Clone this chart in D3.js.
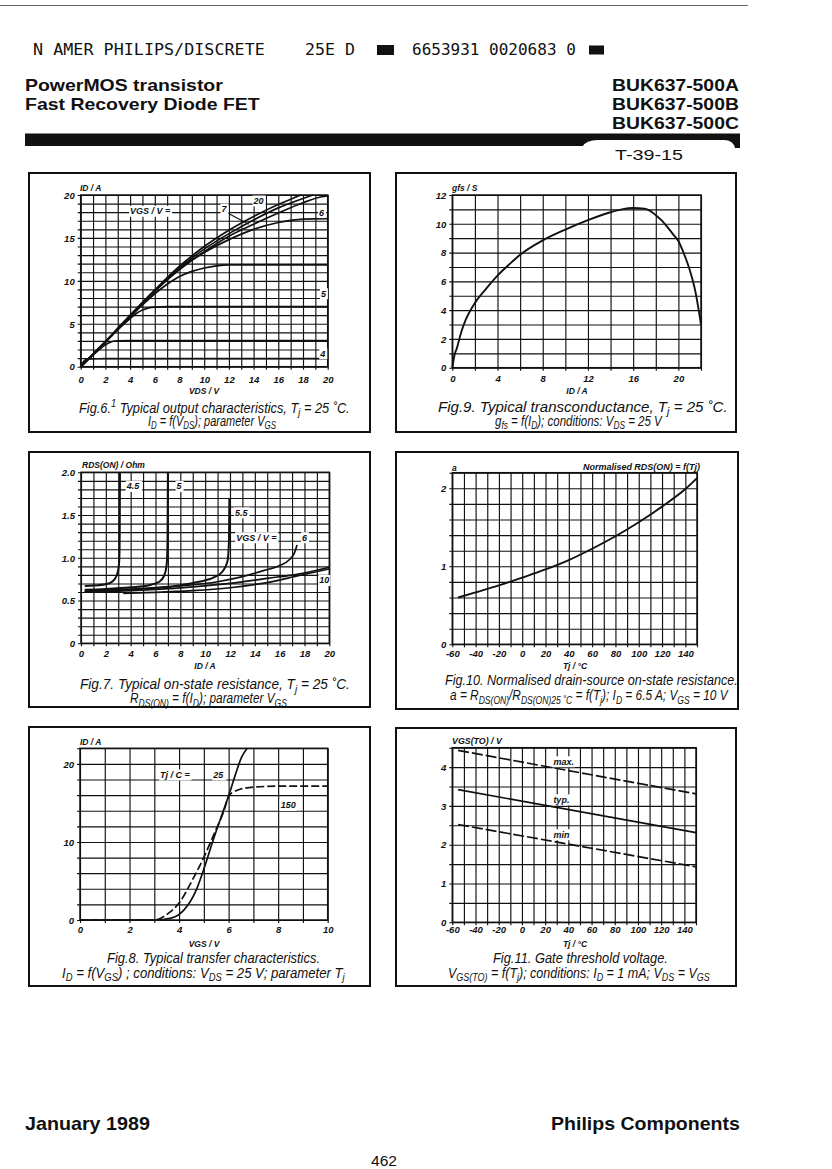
<!DOCTYPE html>
<html><head><meta charset="utf-8">
<script src="https://cdnjs.cloudflare.com/ajax/libs/d3/7.8.5/d3.min.js"></script>
<style>body{margin:0;background:#fff}svg{display:block}</style>
</head><body>
<svg id="c" width="832" height="1169"></svg>
<script>
// ---------------- DATA ----------------
// Fig.6 output characteristics: [VDS, ID]
const fig6_vgs4  = [[0,0],[0.2,0.55],[0.4,0.82],[0.7,0.92],[2,0.93],[20,0.95]];
const fig6_vgs45 = [[0,0],[0.5,0.7],[1,1.35],[1.5,2.0],[2,2.55],[2.5,2.9],[3,3.02],[4,3.05],[20,3.05]];
const fig6_vgs5  = [[0,0],[1,1.4],[2,2.85],[3,4.3],[4,5.6],[4.5,6.2],[5,6.6],[5.5,6.85],[6,6.95],[7,7.0],[20,7.0]];
const fig6_vgs55 = [[0,0],[2,2.9],[4,5.8],[5,7.2],[6,8.5],[7,9.6],[8,10.5],[9,11.1],[10,11.5],[11,11.75],[12,11.85],[14,11.85],[20,11.85]];
const fig6_vgs6  = [[0,0],[2,2.9],[4,5.9],[6,8.8],[8,11.4],[10,13.3],[12,14.8],[14,16.0],[16,16.8],[17,17.05],[18,17.2],[20,17.25]];
const fig6_vgs7  = [[0,0],[2,2.9],[4,5.9],[6,8.8],[8,11.3],[10,13.4],[12,15.2],[14,16.6],[16,17.9],[18,19.1],[19.5,19.8],[20,19.9]];
const fig6_vgs10 = [[0,0],[2,2.9],[4,5.9],[6,8.85],[8,11.5],[10,13.7],[12,15.5],[14,17.1],[16,18.5],[18,19.6],[18.8,20]];
const fig6_vgs20 = [[0,0],[2,2.95],[4,6.0],[6,8.95],[8,11.7],[10,14.0],[12,15.9],[14,17.5],[16,18.9],[17,19.5],[17.8,20]];
const fig6_xTicks = [0,2,4,6,8,10,12,14,16,18,20];
const fig6_yTicks = [0,5,10,15,20];

// Fig.9 transconductance: [ID, gfs]
const fig9_gfs = [[0,0],[0.2,0.9],[0.4,1.35],[0.8,2.5],[1.2,3.35],[2,4.5],[3,5.5],[4,6.4],[5,7.15],[6,7.85],[8,8.85],[10,9.6],[12,10.25],[14,10.8],[15,11.0],[16,11.1],[17,11.05],[17.5,10.9],[18,10.6],[18.5,10.25],[19,9.8],[19.5,9.3],[20,8.8],[20.5,7.9],[21,6.8],[21.5,5.3],[22,3.0]];
const fig9_xTicks = [0,4,8,12,16,20];
const fig9_yTicks = [0,2,4,6,8,10,12];

// Fig.7 on-state resistance: [ID, RDS(ON)]
const fig7_vgs45 = [[0.3,0.67],[1,0.675],[2,0.69],[2.5,0.72],[2.8,0.77],[3.0,0.86],[3.08,0.97],[3.12,1.3],[3.14,2.0]];
const fig7_vgs5  = [[0.3,0.625],[2,0.635],[4,0.655],[5.5,0.68],[6.3,0.72],[6.7,0.79],[6.9,0.92],[6.97,1.2],[7.0,2.0]];
const fig7_vgs55 = [[0.3,0.61],[3,0.625],[6,0.65],[8,0.68],[9.5,0.72],[10.7,0.77],[11.4,0.84],[11.8,0.96],[11.92,1.2],[11.95,1.7]];
const fig7_vgs6  = [[0.3,0.61],[4,0.63],[8,0.67],[11,0.72],[13,0.78],[14.7,0.85],[16,0.91],[16.8,0.98],[17.2,1.06],[17.4,1.15]];
const fig7_vgs7  = [[0.3,0.6],[3,0.61],[6,0.63],[9,0.66],[12,0.7],[15,0.76],[17.5,0.81],[20,0.89]];
const fig7_vgs10 = [[3.4,0.585],[6,0.595],[9,0.615],[12,0.65],[15,0.71],[17.5,0.79],[20,0.87]];
const fig7_xTicks = [0,2,4,6,8,10,12,14,16,18,20];
const fig7_yTicks = [0,0.5,1.0,1.5,2.0];

// Fig.10 normalised RDS(ON): [Tj, a]
const fig10_a = [[-55,0.6],[-40,0.665],[-20,0.755],[0,0.855],[20,0.96],[40,1.08],[60,1.225],[80,1.385],[100,1.565],[120,1.765],[140,1.99],[150,2.13]];
const fig10_xTicks = [-60,-40,-20,0,20,40,60,80,100,120,140];
const fig10_yTicks = [0,1,2];

// Fig.8 transfer characteristics: [VGS, ID]
const fig8_t25  = [[0,0],[3.0,0],[3.3,0.05],[3.63,0.2],[3.97,0.64],[4.2,1.3],[4.44,2.3],[4.7,3.9],[4.9,5.6],[5.1,7.5],[5.3,9.5],[5.5,11.4],[5.72,13.4],[6.03,16.2],[6.26,18.5],[6.53,20.9],[6.75,22]];
const fig8_t150 = [[0,0],[3.0,0],[3.3,0.3],[3.63,1.0],[4.04,2.34],[4.5,4.9],[4.98,7.9],[5.45,11.3],[5.79,13.8],[6.03,16.0],[6.2,16.4],[6.46,16.75],[7.13,17.05],[8.07,17.15],[10,17.15]];
const fig8_xTicks = [0,2,4,6,8,10];
const fig8_yTicks = [0,10,20];

// Fig.11 gate threshold voltage: [Tj, VGS(TO)]
const fig11_max = [[-55,4.43],[150,3.31]];
const fig11_typ = [[-55,3.42],[150,2.31]];
const fig11_min = [[-55,2.52],[150,1.43]];
const fig11_xTicks = [-60,-40,-20,0,20,40,60,80,100,120,140];
const fig11_yTicks = [0,1,2,3,4];

// ---------------- DRAW ----------------
const svg = d3.select('#c');
const SANS = "'Liberation Sans', Arial, Helvetica, sans-serif";
const MONO = "'DejaVu Sans Mono', 'Liberation Mono', monospace";
const INK = '#111';
const plainFmt = d => String(d);

function rich(parent, segs, size, opts = {}) {
  const t = parent.append('text').attr('x', 0).attr('y', 0)
    .attr('font-family', opts.family || SANS).attr('font-size', size)
    .attr('font-style', opts.italic === false ? 'normal' : 'italic')
    .attr('font-weight', opts.weight || 'normal').attr('fill', INK);
  let off = 0;
  segs.forEach(s => {
    const [txt, kind] = Array.isArray(s) ? s : [s, null];
    const target = kind === 'sub' ? size * 0.28 : kind === 'sup' ? -size * 0.38 : 0;
    const ts = t.append('tspan').attr('dy', target - off).text(txt);
    if (kind) ts.attr('font-size', size * 0.72);
    off = target;
  });
  return t;
}
function place(t, x, y, w, anchor) {
  const bw = t.node().getComputedTextLength();
  const s = w ? w / bw : 1;
  const rw = bw * s;
  const x0 = anchor === 'end' ? x - rw : anchor === 'middle' ? x - rw / 2 : x;
  t.attr('transform', `translate(${x0},${y}) scale(${s},1)`);
}

function panel(p) {
  const g = svg.append('g');
  const x = d3.scaleLinear().domain(p.xDom).range([p.x0, p.x1]);
  const y = d3.scaleLinear().domain(p.yDom).range([p.y0, p.y1]);
  const h = p.y0 - p.y1, w = p.x1 - p.x0;
  g.append('rect').attr('x', p.box[0]).attr('y', p.box[1])
    .attr('width', p.box[2] - p.box[0]).attr('height', p.box[3] - p.box[1])
    .attr('fill', 'none').attr('stroke', INK).attr('stroke-width', 2);

  const gx = g.append('g').attr('transform', `translate(0,${p.y0})`)
    .call(d3.axisBottom(x).tickValues(d3.range(p.xDom[0], p.xDom[1] + 1e-9, p.xStep)).tickSize(-h).tickSizeOuter(0).tickFormat(''));
  gx.select('.domain').remove();
  gx.selectAll('line').attr('stroke', INK).attr('stroke-width', 1.15).attr('y1', 3);

  const gy = g.append('g').attr('transform', `translate(${p.x0},0)`)
    .call(d3.axisLeft(y).tickValues(d3.range(0, Math.round((p.yDom[1] - p.yDom[0]) / p.yStep) + 1).map(i => p.yDom[0] + i * p.yStep)).tickSize(-w).tickSizeOuter(0).tickFormat(''));
  gy.select('.domain').remove();
  gy.selectAll('line').attr('stroke', INK).attr('stroke-width', 1.15).attr('x1', -3);

  g.append('rect').attr('x', p.x0).attr('y', p.y1).attr('width', w).attr('height', h)
    .attr('fill', 'none').attr('stroke', INK).attr('stroke-width', 1.5);

  // tick labels
  const lx = g.append('g').attr('transform', `translate(0,${p.y0})`)
    .call(d3.axisBottom(x).tickValues(p.xTicks).tickSize(0).tickFormat(p.xFmt || plainFmt));
  lx.select('.domain').remove();
  lx.selectAll('text').attr('y', p.xLabDy).attr('dy', null)
    .attr('font-family', SANS).attr('font-size', 9.5).attr('font-weight', 'bold').attr('font-style', 'italic').attr('fill', INK);
  const ly = g.append('g').attr('transform', `translate(${p.x0},0)`)
    .call(d3.axisLeft(y).tickValues(p.yTicks).tickSize(0).tickFormat(p.yFmt || plainFmt));
  ly.select('.domain').remove();
  ly.selectAll('text').attr('x', -6).attr('dy', '0.34em')
    .attr('font-family', SANS).attr('font-size', 9.5).attr('font-weight', 'bold').attr('font-style', 'italic').attr('fill', INK);

  // curves
  const line = d3.line().x(d => x(d[0])).y(d => y(d[1])).curve(d3.curveMonotoneX);
  p.series.forEach(s => {
    g.append('path').datum(s.data).attr('d', line).attr('fill', 'none')
      .attr('stroke', INK).attr('stroke-width', s.sw || 1.7)
      .attr('stroke-dasharray', s.dash || null).attr('stroke-linejoin', 'round');
  });
  (p.leaders || []).forEach(l => {
    g.append('line').attr('x1', x(l[0])).attr('y1', y(l[1])).attr('x2', x(l[2])).attr('y2', y(l[3]))
      .attr('stroke', INK).attr('stroke-width', 1.2);
  });
  (p.labels || []).forEach(l => {
    const t = rich(g, [l.t], 9, { weight: 'bold' });
    place(t, x(l.x), y(l.y), null, 'start');
    const bb = t.node().getBBox();
    g.insert('rect', () => t.node()).attr('x', x(l.x) - 1).attr('y', y(l.y) + bb.y - 0.5)
      .attr('width', bb.width + 2).attr('height', bb.height + 1).attr('fill', '#fff');
  });
  // axis titles
  p.titles.forEach(tt => {
    const t = rich(g, tt.segs, 8.5, { weight: 'bold' });
    place(t, tt.x, tt.y, tt.w, tt.anchor);
  });
  // captions
  p.caps.forEach(c => {
    const t = rich(g, c.segs, 14);
    place(t, c.x, c.y, c.w, 'start');
  });
}

// ---- header ----
svg.append('line').attr('x1', 0).attr('x2', 748).attr('y1', 5.5).attr('y2', 5.5).attr('stroke', '#666').attr('stroke-width', 1);
const hdr = (txt, x, y, w, fam, size, weight, anchor) => {
  const t = rich(svg, [txt], size, { family: fam, italic: false, weight: weight || 'normal' });
  place(t, x, y, w, anchor || 'start');
};
hdr('N AMER PHILIPS/DISCRETE', 33, 55, 232, MONO, 15);
hdr('25E D', 305, 55, 50, MONO, 15);
svg.append('rect').attr('x', 377).attr('y', 45).attr('width', 17).attr('height', 10).attr('fill', INK);
hdr('6653931 0020683 0', 412, 55, 164, MONO, 15);
svg.append('rect').attr('x', 589).attr('y', 45.5).attr('width', 15).attr('height', 9).attr('fill', INK);

hdr('PowerMOS transistor', 25, 91, 198, SANS, 16.5, 'bold');
hdr('Fast Recovery Diode FET', 25, 110, 235, SANS, 16.5, 'bold');
hdr('BUK637-500A', 739, 91, 127, SANS, 16.5, 'bold', 'end');
hdr('BUK637-500B', 739, 110, 127, SANS, 16.5, 'bold', 'end');
hdr('BUK637-500C', 739, 129, 127, SANS, 16.5, 'bold', 'end');

svg.append('path').attr('d', 'M25,133.5 L740,133.5 L740,148 L733,148 L733,146 L25,146 Z').attr('fill', INK);
svg.append('path').attr('d', 'M582,147 Q586,140 598,140 L724,140 Q733,140 735,148 Z').attr('fill', '#fff');
hdr('T-39-15', 615, 160, 68, SANS, 15);

// ---- footer ----
hdr('January 1989', 25, 1130, 125, SANS, 17.5, 'bold');
hdr('Philips Components', 740, 1130, 189, SANS, 17.5, 'bold', 'end');
hdr('462', 384, 1166, 26, SANS, 14, 'normal', 'middle');

// ---- panels ----
panel({
  box: [29, 173, 370, 432], xDom: [0, 20], yDom: [0, 20], x0: 80.7, x1: 327.7, y0: 366.7, y1: 195,
  xStep: 1, yStep: 1, xTicks: fig6_xTicks, yTicks: fig6_yTicks, xLabDy: 16,
  series: [{ data: fig6_vgs4 }, { data: fig6_vgs45 }, { data: fig6_vgs5 }, { data: fig6_vgs55 },
           { data: fig6_vgs6 }, { data: fig6_vgs7 }, { data: fig6_vgs10 }, { data: fig6_vgs20 }],
  labels: [{ t: 'VGS / V =', x: 4.0, y: 17.75 }, { t: '20', x: 14.0, y: 18.95 }, { t: '7', x: 11.4, y: 18.0 },
           { t: '6', x: 19.3, y: 17.6 }, { t: '5', x: 19.45, y: 8.15 }, { t: '4', x: 19.4, y: 1.15 }],
  leaders: [[11.9, 17.9, 13.6, 16.6]],
  titles: [{ segs: ['ID / A'], x: 80, y: 191 }, { segs: ['VDS / V'], x: 204, y: 394, anchor: 'middle' }],
  caps: [
    { segs: ['Fig.6.', ['1', 'sup'], '   Typical output characteristics, T', ['j', 'sub'], ' = 25 ˚C.'], x: 79, y: 412.5, w: 271 },
    { segs: ['I', ['D', 'sub'], ' = f(V', ['DS', 'sub'], '); parameter V', ['GS', 'sub']], x: 148, y: 425.5, w: 128 }
  ]
});

panel({
  box: [396, 173, 736, 432], xDom: [0, 22], yDom: [0, 12], x0: 452.3, x1: 701, y0: 367.7, y1: 195,
  xStep: 2, yStep: 1, xTicks: fig9_xTicks, yTicks: fig9_yTicks, xLabDy: 14,
  series: [{ data: fig9_gfs, sw: 1.9 }],
  titles: [{ segs: ['gfs / S'], x: 452, y: 191 }, { segs: ['ID / A'], x: 577, y: 393.5, anchor: 'middle' }],
  caps: [
    { segs: ['Fig.9.    Typical transconductance, T', ['j', 'sub'], ' = 25 ˚C.'], x: 438, y: 411.5, w: 290 },
    { segs: ['g', ['fs', 'sub'], ' = f(I', ['D', 'sub'], '); conditions: V', ['DS', 'sub'], ' = 25 V'], x: 495, y: 425.5, w: 167 }
  ]
});

panel({
  box: [29, 452, 370, 707], xDom: [0, 20], yDom: [0, 2], x0: 81, x1: 329.3, y0: 643.3, y1: 472.3,
  xStep: 1, yStep: 0.1, xTicks: fig7_xTicks, yTicks: fig7_yTicks, xLabDy: 13.5,
  yFmt: d => d === 0 ? '0' : d3.format('.1f')(d),
  series: [{ data: fig7_vgs45, sw: 2 }, { data: fig7_vgs5, sw: 2 }, { data: fig7_vgs55, sw: 2 },
           { data: fig7_vgs6 }, { data: fig7_vgs7 }, { data: fig7_vgs10 }],
  labels: [{ t: '4.5', x: 3.68, y: 1.80 }, { t: '5', x: 7.7, y: 1.80 }, { t: '5.5', x: 12.4, y: 1.49 },
           { t: 'VGS / V =', x: 12.5, y: 1.2 }, { t: '6', x: 17.8, y: 1.2 }, { t: '10', x: 19.2, y: 0.70 }],
  titles: [{ segs: ['RDS(ON) / Ohm'], x: 82, y: 468, w: 63 }, { segs: ['ID / A'], x: 205, y: 668.5, anchor: 'middle' }],
  caps: [
    { segs: ['Fig.7.    Typical on-state resistance, T', ['j', 'sub'], ' = 25 ˚C.'], x: 80, y: 689, w: 270 },
    { segs: ['R', ['DS(ON)', 'sub'], ' = f(I', ['D', 'sub'], '); parameter V', ['GS', 'sub']], x: 130, y: 703, w: 157 }
  ]
});

panel({
  box: [396, 452, 738, 709], xDom: [-60, 150], yDom: [0, 2.2], x0: 452.3, x1: 697, y0: 644.3, y1: 472.7,
  xStep: 10, yStep: 0.2, xTicks: fig10_xTicks, yTicks: fig10_yTicks, xLabDy: 12.5,
  series: [{ data: fig10_a, sw: 1.9 }],
  titles: [{ segs: ['a'], x: 452, y: 471 }, { segs: ['Normalised RDS(ON) = f(Tj)'], x: 700, y: 470, w: 117, anchor: 'end' },
           { segs: ['Tj / °C'], x: 575, y: 668.5, anchor: 'middle' }],
  caps: [
    { segs: ['Fig.10.   Normalised drain-source on-state resistance.'], x: 445, y: 685, w: 293 },
    { segs: ['a = R', ['DS(ON)', 'sub'], '/R', ['DS(ON)25 ˚C', 'sub'], ' = f(T', ['j', 'sub'], '); I', ['D', 'sub'], ' = 6.5 A; V', ['GS', 'sub'], ' = 10 V'], x: 450, y: 700, w: 278 }
  ]
});

panel({
  box: [29, 727, 370, 986], xDom: [0, 10], yDom: [0, 22], x0: 80, x1: 327.7, y0: 920, y1: 748.3,
  xStep: 1, yStep: 2, xTicks: fig8_xTicks, yTicks: fig8_yTicks, xLabDy: 12.5,
  series: [{ data: fig8_t25 }, { data: fig8_t150, dash: '8,3' }],
  labels: [{ t: 'Tj / C =', x: 3.23, y: 18.2 }, { t: '25', x: 5.38, y: 18.2 }, { t: '150', x: 8.1, y: 14.3 }],
  titles: [{ segs: ['ID / A'], x: 80, y: 745 }, { segs: ['VGS / V'], x: 204, y: 946.5, anchor: 'middle' }],
  caps: [
    { segs: ['Fig.8.    Typical transfer characteristics.'], x: 107, y: 963, w: 213 },
    { segs: ['I', ['D', 'sub'], ' = f(V', ['GS', 'sub'], ') ; conditions: V', ['DS', 'sub'], ' = 25 V; parameter T', ['j', 'sub']], x: 62, y: 977.5, w: 283 }
  ]
});

panel({
  box: [396, 728, 736, 986], xDom: [-60, 150], yDom: [0, 4.5], x0: 452.3, x1: 696, y0: 922.3, y1: 747.7,
  xStep: 10, yStep: 0.5, xTicks: fig11_xTicks, yTicks: fig11_yTicks, xLabDy: 10.5,
  series: [{ data: fig11_max, dash: '11,3' }, { data: fig11_typ }, { data: fig11_min, dash: '11,3' }],
  labels: [{ t: 'max.', x: 27.1, y: 4.06 }, { t: 'typ.', x: 27.1, y: 3.08 }, { t: 'min', x: 27.1, y: 2.18 }],
  titles: [{ segs: ['VGS(TO) / V'], x: 452, y: 744, w: 50 }, { segs: ['Tj / °C'], x: 575, y: 946.5, anchor: 'middle' }],
  caps: [
    { segs: ['Fig.11.   Gate threshold voltage.'], x: 493, y: 963, w: 175 },
    { segs: ['V', ['GS(TO)', 'sub'], ' = f(T', ['j', 'sub'], '); conditions: I', ['D', 'sub'], ' = 1 mA; V', ['DS', 'sub'], ' = V', ['GS', 'sub']], x: 448, y: 977.5, w: 262 }
  ]
});
</script>
</body></html>
